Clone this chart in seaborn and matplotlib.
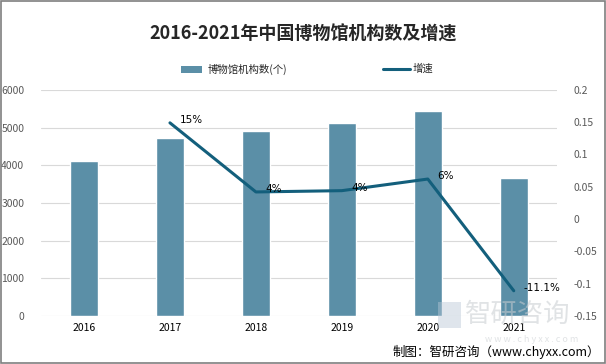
import numpy as np
import pandas as pd
import matplotlib
matplotlib.use("Agg")
import matplotlib.pyplot as plt
import seaborn as sns
from matplotlib.patches import Rectangle
from matplotlib.lines import Line2D

years = ["2016", "2017", "2018", "2019", "2020", "2021"]
museums = [4109, 4721, 4918, 5132, 5452, 3671]
growth = [np.nan, 0.149, 0.042, 0.044, 0.062, -0.111]
growth_labels = ["", "15%", "4%", "4%", "6%", "-11.1%"]

sns.set_style("white")
plt.rcParams['font.family'] = ['Noto Sans CJK SC', 'DejaVu Sans']

bar_color = "#5b8fa7"
line_color = "#135f7c"
tick_gray = "#595959"

df = pd.DataFrame({"year": years, "count": museums, "growth": growth})

fig = plt.figure(figsize=(6.06, 3.64), dpi=100)
ax = fig.add_axes([0.0677, 0.132, 0.851, 0.621])

sns.barplot(data=df, x="year", y="count", color=bar_color, width=0.32,
            saturation=1, ax=ax)
ax.set_xlim(-0.5, 5.5)
ax.set_ylim(0, 6000)
ax.set_yticks(range(0, 6001, 1000))
ax.yaxis.grid(True, color="#d9d9d9", linewidth=0.8)
ax.set_axisbelow(True)
ax.set_xlabel("")
ax.set_ylabel("")
for s in ax.spines.values():
    s.set_visible(False)
ax.tick_params(axis="y", colors=tick_gray, labelsize=7.5, length=0, pad=12)
ax.tick_params(axis="x", colors="black", labelsize=7.5, length=0, pad=5)

ax2 = ax.twinx()
df["pos"] = np.arange(len(years))
sns.lineplot(data=df.dropna(), x="pos", y="growth", color=line_color,
             linewidth=2.2, ax=ax2)
ax2.set_ylim(-0.15, 0.2)
ax2.set_yticks([0.2, 0.15, 0.1, 0.05, 0, -0.05, -0.1, -0.15])
ax2.set_yticklabels(["0.2", "0.15", "0.1", "0.05", "0", "-0.05", "-0.1", "-0.15"])
ax2.set_xlim(-0.5, 5.5)
ax2.set_ylabel("")
ax2.set_xlabel("")
for s in ax2.spines.values():
    s.set_visible(False)
ax2.tick_params(axis="y", colors=tick_gray, labelsize=7.5, length=0, pad=12)

for i, (g, lab) in enumerate(zip(growth, growth_labels)):
    if lab:
        ax2.annotate(lab, (i, g), xytext=(7, 2), textcoords="offset points",
                     fontsize=7.5, color="black", va="center", ha="left",
                     family=["DejaVu Sans"])

fig.text(0.5, 0.905, "2016-2021年中国博物馆机构数及增速", ha="center", va="center",
         fontsize=13, fontweight="bold", color="#262626")

# legend
fig.patches.append(Rectangle((0.298, 0.800), 0.036, 0.020, transform=fig.transFigure,
                             facecolor=bar_color, edgecolor="none"))
fig.text(0.343, 0.810, "博物馆机构数(个)", ha="left", va="center", fontsize=7.5)
fig.lines.append(Line2D([0.632, 0.676], [0.810, 0.810], transform=fig.transFigure,
                        color=line_color, linewidth=2.2))
fig.text(0.680, 0.810, "增速", ha="left", va="center", fontsize=7.5)

# watermark
fig.patches.append(Rectangle((0.722, 0.10), 0.038, 0.07, transform=fig.transFigure,
                             facecolor="#b8c7d6", edgecolor="none", alpha=0.45))
fig.text(0.768, 0.135, "智研咨询", ha="left", va="center", fontsize=19,
         color="#c8ccd0", alpha=0.55)
fig.text(0.80, 0.068, "w w w . c h y x x . c o m", ha="left", va="center",
         fontsize=6.5, color="#c8ccd0", alpha=0.55)

fig.text(0.99, 0.033, "制图：智研咨询（www.chyxx.com）", ha="right", va="center",
         fontsize=9, color="black")

fig.patches.append(Rectangle((0.001, 0.002), 0.997, 0.995, transform=fig.transFigure,
                             facecolor="none", edgecolor="#7f7f7f", linewidth=1.2))

fig.savefig("out.png", dpi=100)
